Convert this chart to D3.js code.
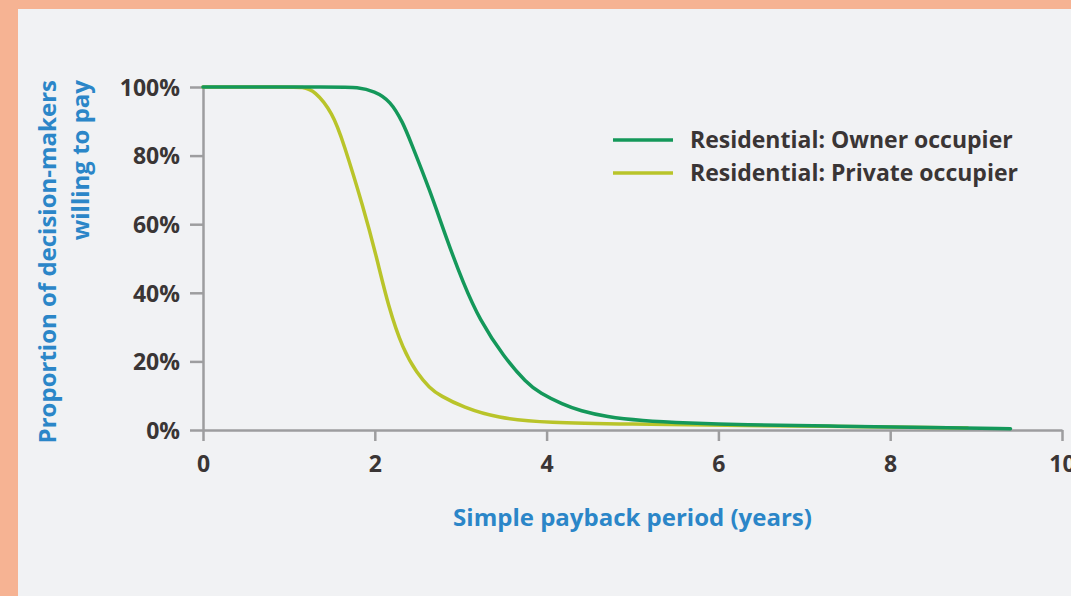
<!DOCTYPE html>
<html>
<head>
<meta charset="utf-8">
<script src="https://cdn.jsdelivr.net/npm/d3@7"></script>
<style>
  body { margin: 0; background: #f6b393; }
  #chart { display: block; }
</style>
</head>
<body>
<svg id="chart"></svg>
<script>
// values
const ownerYears = [0, 1.6, 1.79, 2.0, 2.18, 2.33, 2.41, 2.64, 2.84, 3.03, 3.22, 3.50, 3.77, 3.92, 4.19, 4.39, 4.70, 5.09, 5.67, 6.25, 7.4, 8.5, 9.4]
const ownerPct = [100, 100, 100, 98.8, 96, 89.5, 84.5, 70, 55.4, 42.8, 32.1, 21.4, 13.6, 10.8, 7.4, 5.6, 3.8, 2.7, 2.0, 1.5, 1.1, 0.7, 0.4]

const privateYears = [0, 1.0, 1.16, 1.3, 1.51, 1.633, 1.866, 2.02, 2.157, 2.33, 2.49, 2.64, 2.76, 3.03, 3.42, 4.0, 5.0, 6.0, 7.5, 8.9]
const privatePct = [100, 100, 100, 99, 92.4, 84, 65, 50.5, 36, 23.3, 16.6, 12.2, 10, 6.6, 3.5, 2.1, 1.7, 1.4, 1.0, 0.6]

const xTicks = [0, 2, 4, 6, 8, 10]
const yTicks = [0, 20, 40, 60, 80, 100]

const seriesNames = ["Residential: Owner occupier", "Residential: Private occupier"]
const seriesColors = ["#14985a", "#b9c42a"]

const width = 1071
const height = 596
const plotLeft = 203, plotRight = 1062, plotTop = 87, plotBottom = 430

const svg = d3.select("#chart")
  .attr("width", width)
  .attr("height", height)
  .style("font-family", "'Open Sans', sans-serif")

// light panel inside the salmon frame
svg.append("rect")
  .attr("x", 18).attr("y", 9)
  .attr("width", width - 18).attr("height", height - 9)
  .attr("fill", "#f1f2f4")

const x = d3.scaleLinear().domain([0, 10]).range([plotLeft, plotRight])
const y = d3.scaleLinear().domain([0, 100]).range([plotBottom, plotTop])

const axisColor = "#9d9d9f"
const tickColor = "#3a3535"

const xAxis = svg.append("g")
  .attr("transform", `translate(0,${plotBottom})`)
  .call(d3.axisBottom(x).tickValues(xTicks).tickSize(11).tickSizeOuter(0).tickPadding(15))

const yAxis = svg.append("g")
  .attr("transform", `translate(${plotLeft},0)`)
  .call(d3.axisLeft(y).tickValues(yTicks).tickSize(13).tickSizeOuter(0).tickPadding(10)
    .tickFormat(d => d + "%"))

for (const g of [xAxis, yAxis]) {
  g.select(".domain").attr("stroke", axisColor).attr("stroke-width", 2.5)
  g.selectAll(".tick line").attr("stroke", axisColor).attr("stroke-width", 2.5)
  g.selectAll(".tick text")
    .attr("fill", tickColor)
    .style("font-size", "23px")
    .style("font-weight", "bold")
    .style("font-family", "'Open Sans', sans-serif")
}
yAxis.selectAll(".tick text").attr("dy", "0.36em")

const line = d3.line()
  .x(d => x(d[0]))
  .y(d => y(d[1]))
  .curve(d3.curveBasis)

const series = [
  d3.zip(privateYears, privatePct),
  d3.zip(ownerYears, ownerPct)
]
const seriesCol = [seriesColors[1], seriesColors[0]]

svg.append("g")
  .selectAll("path")
  .data(series)
  .join("path")
    .attr("d", line)
    .attr("fill", "none")
    .attr("stroke", (d, i) => seriesCol[i])
    .attr("stroke-width", 3.5)
    .attr("stroke-linecap", "round")

// legend
const legend = svg.append("g")
  .selectAll("g")
  .data(seriesNames)
  .join("g")
    .attr("transform", (d, i) => `translate(613,${140 + i * 33})`)

legend.append("line")
  .attr("x1", 0).attr("x2", 60)
  .attr("stroke", (d, i) => seriesColors[i])
  .attr("stroke-width", 3.5)

legend.append("text")
  .attr("x", 77)
  .attr("dy", "0.36em")
  .attr("fill", tickColor)
  .style("font-size", "23px")
  .style("font-weight", "bold")
  .text(d => d)

// axis titles
const titleColor = "#2b86c8"

svg.append("text")
  .attr("x", (plotLeft + plotRight) / 2)
  .attr("y", 526)
  .attr("text-anchor", "middle")
  .attr("fill", titleColor)
  .style("font-size", "24px")
  .style("font-weight", "bold")
  .text("Simple payback period (years)")

const yTitle = svg.append("text")
  .attr("transform", "translate(56,80) rotate(-90)")
  .attr("text-anchor", "end")
  .attr("fill", titleColor)
  .style("font-size", "24px")
  .style("font-weight", "bold")

yTitle.append("tspan").attr("x", 0).attr("y", 0).text("Proportion of decision-makers")
yTitle.append("tspan").attr("x", 0).attr("y", 33).text("willing to pay")
</script>
</body>
</html>
